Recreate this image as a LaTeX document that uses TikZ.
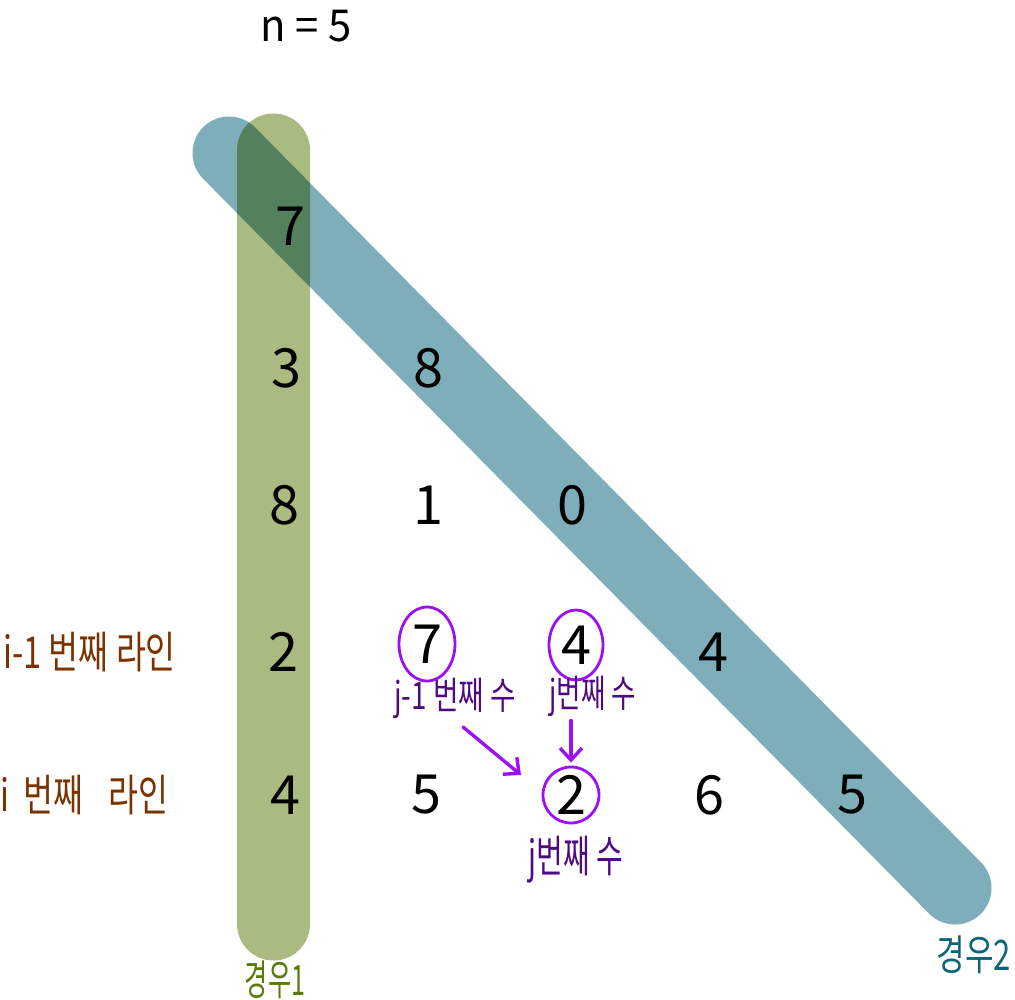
\documentclass[tikz,border=0pt]{standalone}
\usepackage{fontspec}
\setmainfont{Noto Sans CJK KR}
\usetikzlibrary{arrows.meta,shapes.geometric}
\definecolor{bandgreen}{HTML}{A9BB80}
\definecolor{bandblue}{HTML}{7FAEBB}
\definecolor{banddark}{HTML}{55805E}
\definecolor{ringpurple}{HTML}{9B10F5}
\definecolor{labpurple}{HTML}{500A80}
\definecolor{labbrown}{HTML}{7A3300}
\definecolor{labgreen}{HTML}{5A7A10}
\definecolor{labteal}{HTML}{0F6578}
\begin{document}
\begin{tikzpicture}[x=1pt,y=-1pt,
  digit/.style={font=\fontsize{54}{54}\selectfont, inner sep=0pt},
  ring/.style={digit, draw=ringpurple, line width=2.8pt, ellipse},
  brownlab/.style={text=labbrown, font=\fontsize{44}{44}\selectfont, inner sep=0pt, anchor=west},
  purplelab/.style={text=labpurple, font=\fontsize{38}{38}\selectfont, inner sep=0pt},
  caselab/.style={font=\fontsize{42}{42}\selectfont, inner sep=0pt},
  parrow/.style={draw=ringpurple, line width=3.4pt, line cap=round,
    -{Straight Barb[length=12pt,width=22pt,line width=3.4pt]}},
  band/.style={line width=73pt, line cap=round}]
\useasboundingbox (0,0) rectangle (1015,1000);

% bands
\coordinate (gtop) at (273.5,150);
\coordinate (gbot) at (273.5,924);
\coordinate (btop) at (229,153);
\coordinate (bbot) at (955,888);
\draw[band, bandgreen] (gtop) -- (gbot);
\draw[band, bandblue] (btop) -- (bbot);
\begin{scope}
  \clip (237,924) -- (237,150) arc[start angle=180, end angle=0, radius=36.5pt] -- (310,924) -- cycle;
  \draw[band, banddark] (btop) -- (bbot);
\end{scope}

% title
\node[font=\fontsize{44}{44}\selectfont, inner sep=0pt] (title) at (306,26) {\scalebox{0.95}[1]{n = 5}};

% numbers
\node[digit] (r11) at (290,226) {7};
\node[digit] (r21) at (286,368) {3};
\node[digit] (r22) at (428,368) {8};
\node[digit] (r31) at (284,505) {8};
\node[digit] (r32) at (428,505) {1};
\node[digit] (r33) at (572,505) {0};
\node[digit] (r41) at (283,652) {2};
\node[ring, minimum width=56pt, minimum height=74pt] (r42) at (427,644) {7};
\node[ring, minimum width=54pt, minimum height=70pt] (r43) at (576,645) {4};
\node[digit] (r44) at (713,652) {4};
\node[digit] (r51) at (285,795) {4};
\node[digit] (r52) at (426,795) {5};
\node[ring, minimum width=56pt, minimum height=56pt] (r53) at (571,795) {2};
\node[digit] (r54) at (709,795) {6};
\node[digit] (r55) at (852,795) {5};

% line labels
\node[brownlab] (lineprev) at (3,652) {\scalebox{0.74}[1]{i-1 번째 라인}};
\node[brownlab] (linecur) at (0,795) {\scalebox{0.74}[1]{i\hspace{0.45em}번째\hspace{0.75em}라인}};

% element labels
\node[purplelab] (jm1) at (455,698) {\scalebox{0.73}[1]{j-1 번째 수}};
\node[purplelab] (jth) at (593,696) {\scalebox{0.70}[1]{j번째 수}};
\node[purplelab, font=\fontsize{44}{44}\selectfont] (jcur) at (576,860) {\scalebox{0.66}[1]{j번째 수}};

% case labels
\node[caselab, text=labgreen] (case1) at (275,980) {\scalebox{0.6}[1]{경우1}};
\node[caselab, text=labteal] (case2) at (974,955) {\scalebox{0.74}[1]{경우2}};

% arrows
\coordinate (a1s) at (463,727);
\coordinate (a1e) at (521,775);
\draw[parrow] (a1s) -- (a1e);
\draw[parrow, shorten <=4pt, shorten >=3pt] (jth.south -| r53.north) -- (r53.north);
\end{tikzpicture}
\end{document}
